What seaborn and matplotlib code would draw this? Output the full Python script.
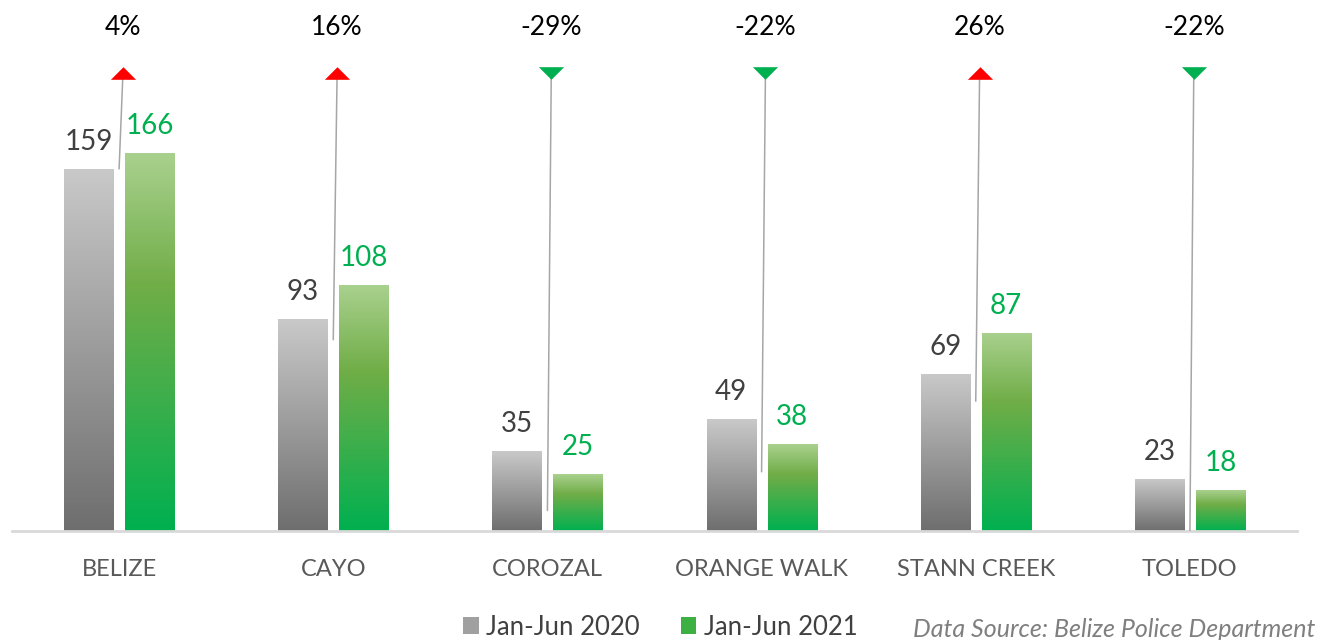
import numpy as np
import pandas as pd
import seaborn as sns
import matplotlib.pyplot as plt
from matplotlib.colors import LinearSegmentedColormap
from matplotlib.patches import Patch

sns.set_theme(style="white")
plt.rcParams['font.family'] = ['Lato', 'DejaVu Sans']

# data
districts = ["BELIZE", "CAYO", "COROZAL", "ORANGE WALK", "STANN CREEK", "TOLEDO"]
jan_jun_2020 = [159, 93, 35, 49, 69, 23]
jan_jun_2021 = [166, 108, 25, 38, 87, 18]
# where the grey leader lines stop (in data units)
leader_base = [159, 84, 9, 26, 57, 0]

periods = ["Jan-Jun 2020", "Jan-Jun 2021"]
df = pd.DataFrame({
    "district": districts * 2,
    "period": [periods[0]] * 6 + [periods[1]] * 6,
    "count": jan_jun_2020 + jan_jun_2021,
})
pct = [round((b - a) / a * 100) for a, b in zip(jan_jun_2020, jan_jun_2021)]

GREY = "#a0a0a0"
GREEN = "#3cb043"

fig = plt.figure(figsize=(13.21, 6.40), dpi=100)
ax = fig.add_axes([12 / 1321, 109 / 640, 1285 / 1321, 531 / 640])

sns.barplot(data=df, x="district", y="count", hue="period", hue_order=periods,
            palette={periods[0]: GREY, periods[1]: GREEN},
            width=0.569, gap=0.195, legend=False, ax=ax)

grey_cmap = LinearSegmentedColormap.from_list("g", ["#c9c9c9", "#6e6e6e"])
green_cmap = LinearSegmentedColormap.from_list(
    "gr", [(0, "#a9d18e"), (0.35, "#70ad47"), (1, "#00b050")])
grad = np.linspace(0, 1, 256).reshape(-1, 1)

bars = list(ax.patches)
for i, bar in enumerate(bars):
    x0, y0 = bar.get_x(), bar.get_y()
    w, h = bar.get_width(), bar.get_height()
    cmap = grey_cmap if i < 6 else green_cmap
    img = ax.imshow(grad, cmap=cmap, aspect="auto", origin="upper",
                    extent=(x0, x0 + w, y0, y0 + h), zorder=2)
    img.set_clip_path(bar)
    bar.set_facecolor("none")
    bar.set_edgecolor("none")
    # value labels
    color = "#404040" if i < 6 else "#00b050"
    ax.annotate(f"{int(h)}", (x0 + w / 2, h), xytext=(0, 19),
                textcoords="offset pixels", ha="center", va="baseline",
                fontsize=20, color=color)

# change markers, leader lines and percent labels
for i, p in enumerate(pct):
    ax.plot([i + 0.018, i], [201, leader_base[i]], color="#a6a6a6", lw=1.1, zorder=3)
    up = p > 0
    ax.scatter(i + 0.018, 201, marker=[(-1, -0.5), (1, -0.5), (0, 0.5)] if up
               else [(-1, 0.5), (1, 0.5), (0, -0.5)],
               s=330, color="#ff0000" if up else "#00b050", zorder=4, linewidths=0)
    ax.text(i + 0.018, 217.8, f"{p}%", ha="center", va="baseline", fontsize=19, color="black")

ax.set_xlim(-0.5, 5.5)
ax.set_ylim(0, 233.2)
ax.set_xlabel("")
ax.set_ylabel("")
ax.set_yticks([])
ax.tick_params(axis="x", length=0, pad=20.5, labelsize=17, labelcolor="#595959")
for side in ["top", "right", "left"]:
    ax.spines[side].set_visible(False)
ax.spines["bottom"].set_color("#d9d9d9")
ax.spines["bottom"].set_linewidth(2)

handles = [Patch(facecolor="#a0a0a0", edgecolor="none"),
           Patch(facecolor="#3cb043", edgecolor="none")]
fig.legend(handles, periods, loc="center", bbox_to_anchor=(0.5, 0.02), ncol=2,
           frameon=False, fontsize=18.5, labelcolor="#404040", handlelength=0.6,
           handleheight=0.6, handletextpad=0.3, columnspacing=1.6)
fig.text(0.996, 0.017, "Data Source: Belize Police Department", ha="right", va="center",
         style="italic", fontsize=18, color="#7f7f7f")

fig.savefig("out.png", dpi=100)
